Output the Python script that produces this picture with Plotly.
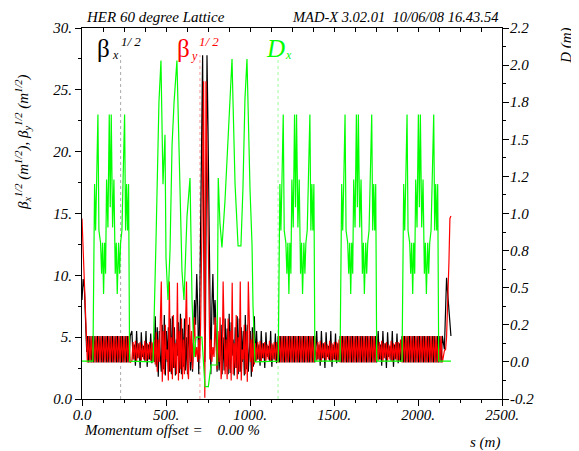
import plotly.graph_objects as go

# ---------------- values ----------------
# ring start (s in m), sqrt(beta_x), sqrt(beta_y)
beg_s = [0, 7, 14, 21, 28]
beg_bx = [8.0, 9.7, 9.0, 5.5, 3.8]
beg_by = [14.6, 12.0, 9.5, 7.0, 4.7]

# arc FODO sections: sqrt(beta) alternates between these extremes every half cell
arc_start = [32, 1168, 1536, 1905]
arc_end = [290, 1390, 1756, 2150]
fodo_half = 7.5
fodo_bx = [5.1, 2.95]
fodo_by = [2.95, 5.1]

# straight sections (pattern read from one straight, offsets in m)
str_start = [290, 1032, 1390, 1756]
str_end = [430, 1168, 1536, 1905]
str_off = [0, 7, 14, 21, 28, 35, 42, 49, 56, 63, 70, 77, 84, 91, 98, 105, 112, 119, 126, 133, 140]
str_bx = [3.0, 5.5, 3.2, 4.4, 2.7, 5.5, 3.3, 4.5, 2.5, 5.4, 3.4, 4.3, 3.1, 5.5, 2.6, 4.4, 3.2, 5.3, 2.9, 4.5, 3.0]
str_by = [4.8, 3.1, 4.6, 3.2, 4.7, 3.0, 4.5, 3.3, 4.6, 3.1, 4.4, 3.2, 4.7, 3.0, 4.5, 3.2, 4.6, 3.1, 4.6, 3.1, 4.8]

# interaction region: left half, mirror symmetric about the IP
ip_s = 731
ip_bx = 3.0
ip_by = 0.1
ir_s = [430, 436, 442, 448, 454, 460, 466, 472, 478, 484,
        490, 496, 502, 508, 514, 520, 526, 532, 538, 544,
        550, 556, 562, 568, 574, 580, 586, 592, 598, 604,
        610, 616, 622, 628, 634, 640, 646, 652, 658, 664,
        670, 676, 683, 689, 695, 701, 706, 712, 718, 724, 727]
ir_bx = [3.0, 6.7, 2.6, 5.8, 1.8, 5.5, 3.5, 2.2, 6.0, 2.4,
         6.8, 1.9, 5.5, 3.0, 5.8, 2.2, 6.5, 2.0, 6.7, 2.5,
         5.8, 1.9, 4.8, 3.5, 6.2, 2.1, 6.9, 2.0, 5.7, 2.6,
         6.5, 2.3, 5.0, 2.0, 6.0, 3.5, 2.3, 4.5, 2.2, 5.5,
         8.0, 6.0, 10.1, 7.4, 2.0, 8.0, 14.0, 22.0, 27.8, 14.0, 6.0]
ir_by = [4.5, 2.8, 5.4, 2.2, 4.8, 3.0, 6.5, 9.5, 1.4, 5.5,
         2.0, 6.0, 3.2, 4.0, 1.5, 9.5, 2.2, 5.0, 1.6, 6.8,
         2.5, 4.5, 2.0, 9.4, 1.5, 5.5, 2.4, 6.5, 1.6, 4.8,
         2.0, 5.5, 9.5, 2.5, 1.6, 6.6, 3.0, 5.5, 2.4, 4.7,
         6.6, 3.4, 4.2, 3.0, 4.8, 3.2, 6.0, 12.0, 20.0, 25.7, 14.0]

# ring end
end_s = [2157, 2164, 2170, 2177, 2184, 2190, 2196]
end_bx = [4.0, 6.5, 9.8, 8.5, 7.0, 6.0, 5.1]
end_by = [3.9, 4.0, 5.0, 7.5, 11.0, 14.6, 14.8]

# dispersion D_x (m)
dx_flat = 0.045
dx_ring_end = 2196
dx_blk_start = [65, 1168, 1536, 1905]
dx_blk_off = [0, 9.9, 15.9, 21.8, 29.8, 35.7, 45.6, 51.6, 57.5, 63.5, 69.4,
              75.4, 81.3, 89.3, 97.2, 103.2, 109.1, 117.1, 125.0, 132.9, 138.9,
              144.8, 152.8, 158.7, 164.7, 172.6, 180.5, 188.5, 194.4, 200.4,
              206.3, 212.3, 218.3]
dx_blk = [0.045, 1.19, 0.89, 1.19, 1.64, 0.89, 0.81, 0.61, 0.81, 0.48, 0.81,
          0.61, 1.22, 0.91, 1.64, 1.04, 1.64, 0.91, 1.22, 0.61, 0.81,
          0.48, 0.81, 0.61, 0.81, 0.89, 1.19, 1.64, 0.89, 1.19,
          0.89, 1.19, 0.045]
dx_ir_s = [423, 440, 446, 458, 470, 482, 494, 500, 512, 524, 536, 548, 565, 577,
           583, 595, 607, 619, 625, 643, 655, 667, 679, 714, 732, 752, 768, 804,
           811, 821, 833, 851, 869, 893, 899, 911, 929, 946, 958, 970, 982, 988,
           1000, 1012, 1018, 1030]
dx_ir = [0.04, 0.80, 1.16, 1.72, 1.99, 1.19, 1.51, 0.71, 0.44, 0.76, 1.44, 1.72,
         1.99, 1.44, 1.12, 0.63, 0.44, 0.82, 0.98, 1.23, 0.44, 0.07, 0.20, 0.20,
         -0.12, -0.12, 0.02, 0.02, 1.23, 0.94, 0.78, 1.08, 1.51, 2.0, 1.72, 1.19,
         0.79, 0.79, 1.16, 1.74, 2.0, 1.72, 1.16, 0.80, 0.40, 0.04]

# axis tick labels
x_tickvals = [0, 500, 1000, 1500, 2000, 2500]
x_ticktext = ["0.0", "500.", "1000.", "1500.", "2000.", "2500."]
y_tickvals = [0, 5, 10, 15, 20, 25, 30]
y_ticktext = ["0.0", "5.", "10.", "15.", "20.", "25.", "30."]
y2_tickvals = [-0.2, 0.04, 0.28, 0.52, 0.76, 1.0, 1.24, 1.48, 1.72, 1.96, 2.2]
y2_ticktext = ["-0.2", "0.0", "0.2", "0.5", "0.8", "1.0", "1.2", "1.5", "1.8", "2.0", "2.2"]

# label marker lines (s positions)
marker_s = [230, 702, 1167]
marker_top = 27.8

# ---------------- assemble series ----------------
bx_pts = list(zip(beg_s, beg_bx))
by_pts = list(zip(beg_s, beg_by))
for a, b in zip(arc_start, arc_end):
    k = 0
    s = a
    while s <= b + 1e-9:
        bx_pts.append((s, fodo_bx[k % 2]))
        by_pts.append((s, fodo_by[k % 2]))
        k += 1
        s += fodo_half
for a, b in zip(str_start, str_end):
    for o, vx, vy in zip(str_off, str_bx, str_by):
        if 0 < o and a + o <= b:
            bx_pts.append((a + o, vx))
            by_pts.append((a + o, vy))
for s, vx, vy in zip(ir_s, ir_bx, ir_by):
    bx_pts.append((s, vx)); by_pts.append((s, vy))
    bx_pts.append((2 * ip_s - s, vx)); by_pts.append((2 * ip_s - s, vy))
bx_pts.append((ip_s, ip_bx)); by_pts.append((ip_s, ip_by))
bx_pts += list(zip(end_s, end_bx))
by_pts += list(zip(end_s, end_by))
bx_pts.sort(key=lambda p: p[0])
by_pts.sort(key=lambda p: p[0])

dx_pts = [(0, dx_flat), (dx_ring_end, dx_flat)]
for a in dx_blk_start:
    for o, v in zip(dx_blk_off, dx_blk):
        dx_pts.append((a + o, v))
dx_pts += list(zip(dx_ir_s, dx_ir))
dx_pts.sort(key=lambda p: p[0])

# ---------------- figure ----------------
FONT = "Liberation Serif"
fig = go.Figure()
fig.add_trace(go.Scatter(x=[p[0] for p in bx_pts], y=[p[1] for p in bx_pts], mode="lines",
                         line=dict(color="#000000", width=1.2), yaxis="y", showlegend=False))
fig.add_trace(go.Scatter(x=[p[0] for p in by_pts], y=[p[1] for p in by_pts], mode="lines",
                         line=dict(color="#ff0000", width=1.2), yaxis="y", showlegend=False))
fig.add_trace(go.Scatter(x=[p[0] for p in dx_pts], y=[p[1] for p in dx_pts], mode="lines",
                         line=dict(color="#00ff00", width=1.2), yaxis="y2", showlegend=False))
# invisible trace for the top axis
fig.add_trace(go.Scatter(x=[0], y=[0], mode="markers", marker=dict(size=1, opacity=0),
                         xaxis="x2", yaxis="y", showlegend=False, hoverinfo="skip"))

for s, c in zip(marker_s, ["#aaaaaa", "#ff9999", "#99ff99"]):
    fig.add_shape(type="line", x0=s, x1=s, y0=0, y1=marker_top, xref="x", yref="y",
                  line=dict(color=c, width=1, dash="dot"), layer="below")

tf = dict(family=FONT, size=15, color="black", style="italic")
# the page body has an 8 px margin, so the figure is 8 px smaller and its
# left/top margins 8 px smaller, putting the plot area at 82..502 x 25..399
fig.update_layout(
    width=571, height=443,
    margin=dict(l=74, r=77, t=17, b=52),
    paper_bgcolor="white", plot_bgcolor="white",
    font=dict(family=FONT, size=14, color="black"),
    xaxis=dict(range=[0, 2500], tickmode="array", tickvals=x_tickvals, ticktext=x_ticktext,
               ticks="outside", ticklen=6, tickcolor="black", showline=True, linecolor="black",
               linewidth=1, showgrid=False, zeroline=False, tickfont=tf, ticklabelstandoff=-4,
               minor=dict(ticks="outside", ticklen=3, tick0=0, dtick=125, tickcolor="black", showgrid=False)),
    xaxis2=dict(range=[0, 2500], overlaying="x", side="top", showticklabels=False,
                ticks="inside", ticklen=4, tick0=0, dtick=125, tickcolor="black",
                showline=True, linecolor="black", linewidth=1, showgrid=False, zeroline=False),
    yaxis=dict(range=[0, 30], tickmode="array", tickvals=y_tickvals, ticktext=y_ticktext,
               ticks="outside", ticklen=6, tickcolor="black", showline=True, linecolor="black",
               linewidth=1, showgrid=False, zeroline=False, tickfont=tf,
               minor=dict(ticks="outside", ticklen=3, tick0=0, dtick=2.5, tickcolor="black", showgrid=False)),
    yaxis2=dict(range=[-0.2, 2.2], overlaying="y", side="right", tickmode="array",
                tickvals=y2_tickvals, ticktext=y2_ticktext, ticks="outside", ticklen=6,
                tickcolor="black", showline=True, linecolor="black", linewidth=1,
                showgrid=False, zeroline=False, tickfont=tf, ticklabelstandoff=-2,
                minor=dict(ticks="outside", ticklen=3, tick0=-0.2, dtick=0.12, tickcolor="black", showgrid=False)),
)


def px(x):
    return (x - 82) / 420.0


def py(y):
    return (399 - y) / 374.0


def note(text, x, y, size=14, color="black", style="italic", xanchor="center", angle=0):
    fig.add_annotation(text=text, x=px(x), y=py(y), xref="paper", yref="paper", showarrow=False,
                       xanchor=xanchor, yanchor="middle", textangle=angle,
                       font=dict(family=FONT, size=size, color=color, style=style))


NB = "\u00a0"
note("HER 60 degree Lattice", 84, 14, size=15, xanchor="left")
note("MAD-X 3.02.01" + NB * 2 + "10/06/08 16.43.54", 500, 14, size=14.5, xanchor="right")
note("Momentum offset =" + NB * 4 + "0.00 %", 82, 430, size=15, xanchor="left")
note("s (m)", 502, 443, size=15, xanchor="right")
note("D (m)", 567, 43, size=15, angle=-90)
note("β<sub>x</sub><sup>1/2</sup> (m<sup>1/2</sup>), β<sub>y</sub><sup>1/2</sup> (m<sup>1/2</sup>)",
     23, 140, size=15, angle=-90)

# curve labels
note("β", 103, 46, size=25, style="normal")
note("x", 115, 52, size=12)
note("1/ 2", 131, 39, size=13)
note("β", 183, 46, size=25, color="#ff0000", style="normal")
note("y", 194, 53, size=12, color="#ff0000")
note("1/ 2", 209, 39, size=13, color="#ff0000")
note("D", 275, 46, size=25, color="#00ff00")
note("x", 288, 52, size=12, color="#00ff00")

fig.write_html("out.html")
